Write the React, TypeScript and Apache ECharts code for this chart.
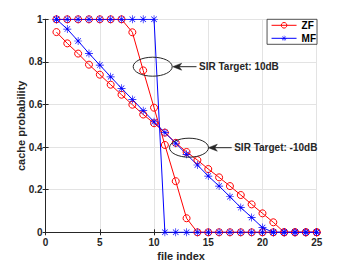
import React, { useEffect, useRef } from "react";
import * as echarts from "echarts";

const fileIndex = [1, 2, 3, 4, 5, 6, 7, 8, 9, 10, 11, 12, 13, 14, 15, 16, 17, 18, 19, 20, 21, 22, 23, 24, 25];
const zfHigh = [1, 1, 1, 1, 1, 1, 1, 0.939, 0.76, 0.585, 0.41, 0.24, 0.066, 0, 0, 0, 0, 0, 0, 0, 0, 0, 0, 0, 0];
const mfHigh = [1, 1, 1, 1, 1, 1, 1, 1, 1, 1, 0, 0, 0, 0, 0, 0, 0, 0, 0, 0, 0, 0, 0, 0, 0];
const zfLow = [0.94, 0.887, 0.839, 0.787, 0.74, 0.693, 0.646, 0.599, 0.553, 0.512, 0.468, 0.42, 0.377, 0.339, 0.297, 0.258, 0.217, 0.175, 0.131, 0.089, 0.047, 0, 0, 0, 0];
const mfLow = [1, 0.954, 0.898, 0.84, 0.785, 0.73, 0.676, 0.624, 0.571, 0.519, 0.468, 0.418, 0.366, 0.316, 0.264, 0.217, 0.167, 0.116, 0.07, 0.022, 0, 0, 0, 0, 0];
const xTicks = { min: 0, max: 25, interval: 5 };
const yTicks = { min: 0, max: 1, interval: 0.2 };
const legendNames = ["ZF", "MF"];
const noteHigh = "SIR Target: 10dB";
const noteLow = "SIR Target: -10dB";

const STAR =
  "path://M9.2 0L10.8 0L10.8 20L9.2 20Z M0 9.2L20 9.2L20 10.8L0 10.8Z M3.6 2.5L17.5 16.4L16.4 17.5L2.5 3.6Z M16.4 2.5L17.5 3.6L3.6 17.5L2.5 16.4Z";

const FONT = "'Liberation Sans', Arial, Helvetica, sans-serif";
const INK = "#262626";

function pairs(ys: number[]) {
  return fileIndex.map((x, i) => [x, ys[i]]);
}

export default function App() {
  const ref = useRef<HTMLDivElement>(null);
  useEffect(() => {
    document.body.style.margin = "0";
    const chart = echarts.init(ref.current!, undefined, { renderer: "svg" });
    const zfStyle = (data: number[]) => ({
      name: "ZF",
      type: "line",
      data: pairs(data),
      symbol: "circle",
      symbolSize: 7,
      showAllSymbol: true,
      lineStyle: { color: "#ff0000", width: 1 },
      itemStyle: { color: "rgba(255,255,255,0)", borderColor: "#ff0000", borderWidth: 1 },
      emphasis: { disabled: true },
    });
    const mfStyle = (data: number[]) => ({
      name: "MF",
      type: "line",
      data: pairs(data),
      symbol: STAR,
      symbolSize: 8,
      showAllSymbol: true,
      lineStyle: { color: "#0000ff", width: 1 },
      itemStyle: { color: "#0000ff", borderWidth: 0 },
      emphasis: { disabled: true },
    });
    const axisCommon = {
      axisLine: { show: true, lineStyle: { color: INK, width: 1 } },
      axisTick: { show: true, inside: true, length: 3, lineStyle: { color: INK } },
    };
    const note = (cx: number, cy: number, tipX: number, lineEnd: number, text: string) => [
      {
        type: "ellipse",
        shape: { cx, cy, rx: 19.5, ry: 9.5 },
        style: { fill: "none", stroke: INK, lineWidth: 1 },
        z: 100,
      },
      {
        type: "line",
        shape: { x1: tipX + 4, y1: cy, x2: lineEnd, y2: cy },
        style: { stroke: INK, lineWidth: 1 },
        z: 100,
      },
      {
        type: "polygon",
        shape: { points: [[tipX, cy], [tipX + 9, cy - 3.5], [tipX + 6.5, cy], [tipX + 9, cy + 3.5]] },
        style: { fill: INK, stroke: INK, lineWidth: 0.5 },
        z: 100,
      },
      {
        type: "text",
        x: lineEnd + 2.5,
        y: cy,
        style: {
          text,
          font: `bold 10px ${FONT}`,
          fill: INK,
          verticalAlign: "middle",
          textVerticalAlign: "middle",
        },
        z: 100,
      },
    ];
    chart.setOption({
      animation: false,
      textStyle: { fontFamily: FONT },
      grid: { left: 45.6, right: 33.3, top: 19.3, bottom: 30.7, outerBoundsMode: "none", containLabel: false },
      legend: {
        data: legendNames,
        orient: "vertical",
        right: 33,
        top: 19.3,
        itemWidth: 25,
        itemHeight: 7,
        itemGap: 3,
        padding: [1, 1, 1, 4],
        borderColor: INK,
        borderWidth: 0.8,
        borderRadius: 0,
        backgroundColor: "#ffffff",
        selectedMode: false,
        itemStyle: { borderWidth: 1 },
        lineStyle: { width: 1 },
        textStyle: { fontWeight: "bold", fontSize: 10, color: "#000", fontFamily: FONT },
      },
      xAxis: [
        {
          type: "value",
          ...xTicks,
          ...axisCommon,
          name: "file index",
          nameLocation: "middle",
          nameGap: 18,
          nameMoveOverlap: false,
          nameTextStyle: { fontWeight: "bold", fontSize: 11, color: INK, fontFamily: FONT },
          axisLabel: { fontWeight: "bold", fontSize: 10, color: INK, margin: 5, fontFamily: FONT },
          splitLine: { show: true, lineStyle: { color: "#e3e3e3", width: 1 } },
        },
        {
          type: "value",
          position: "top",
          ...xTicks,
          ...axisCommon,
          axisLabel: { show: false },
          splitLine: { show: false },
        },
      ],
      yAxis: [
        {
          type: "value",
          ...yTicks,
          ...axisCommon,
          name: "cache probability",
          nameLocation: "middle",
          nameGap: 19,
          nameRotate: 90,
          nameMoveOverlap: false,
          nameTextStyle: { fontWeight: "bold", fontSize: 11, color: INK, fontFamily: FONT },
          axisLabel: { fontWeight: "bold", fontSize: 10, color: INK, margin: 3, fontFamily: FONT },
          splitLine: { show: true, lineStyle: { color: "#e3e3e3", width: 1 } },
        },
        {
          type: "value",
          position: "right",
          ...yTicks,
          ...axisCommon,
          axisLabel: { show: false },
          splitLine: { show: false },
        },
      ],
      series: [zfStyle(zfLow), zfStyle(zfHigh), mfStyle(mfLow), mfStyle(mfHigh)],
      graphic: [
        ...note(152.7, 66.7, 172.7, 196.5, noteHigh),
        ...note(189, 147.7, 208.3, 231.7, noteLow),
      ],
    });
    return () => chart.dispose();
  }, []);
  return <div ref={ref} style={{ width: 350, height: 263 }} />;
}
